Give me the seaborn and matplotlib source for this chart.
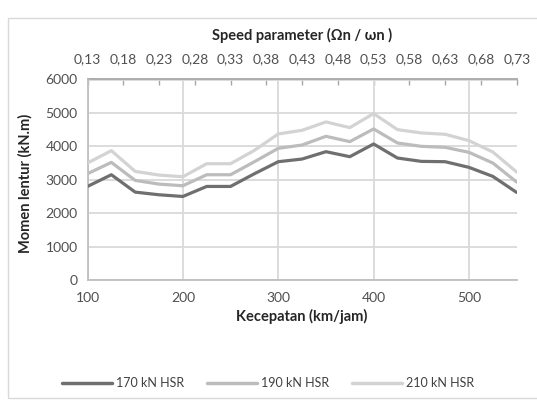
import numpy as np
import pandas as pd
import matplotlib
matplotlib.use("Agg")
import matplotlib.pyplot as plt
import matplotlib.patches as patches
import seaborn as sns

# speed (km/jam) and bending moment (kN.m) per axle load
speed = [100, 125, 150, 175, 200, 225, 250, 275, 300, 325,
         350, 375, 400, 425, 450, 475, 500, 525, 550]
m170 = [2800, 3150, 2630, 2550, 2500, 2800, 2800, 3180, 3540, 3620,
        3840, 3690, 4070, 3650, 3550, 3540, 3370, 3100, 2620]
m190 = [3180, 3520, 2980, 2870, 2820, 3150, 3150, 3540, 3940, 4040,
        4300, 4140, 4520, 4100, 4000, 3970, 3820, 3500, 2930]
m210 = [3500, 3870, 3250, 3140, 3090, 3480, 3480, 3880, 4370, 4480,
        4730, 4560, 4980, 4500, 4400, 4360, 4170, 3830, 3230]
series_names = ["170 kN HSR", "190 kN HSR", "210 kN HSR"]
colors = ["#6f6f6f", "#bcbcbc", "#d3d3d3"]

param_ticks = [0.13, 0.18, 0.23, 0.28, 0.33, 0.38, 0.43,
               0.48, 0.53, 0.58, 0.63, 0.68, 0.73]

df = pd.DataFrame({"speed": speed, series_names[0]: m170,
                   series_names[1]: m190, series_names[2]: m210})
long = df.melt(id_vars="speed", var_name="beban", value_name="momen")

sns.set_theme(style="white")
plt.rcParams["font.family"] = ["Lato", "DejaVu Sans"]

fig = plt.figure(figsize=(5.37, 4.08), dpi=100)
ax = fig.add_axes([87.5 / 537, 1 - 280 / 408, (516.7 - 87.5) / 537, (280 - 79.5) / 408])

sns.lineplot(data=long, x="speed", y="momen", hue="beban", hue_order=series_names,
             palette=colors, linewidth=2.3, ax=ax, legend=False, zorder=3)

ax.set_xlim(100, 550)
ax.set_ylim(0, 6000)
ax.set_xticks([100, 200, 300, 400, 500])
ax.set_yticks(np.arange(0, 7000, 1000))
ax.grid(True, color="#d9d9d9", linewidth=1.3, zorder=0)
ax.set_xlabel("")
ax.set_ylabel("")
ax.tick_params(axis="both", length=0, labelsize=10, colors="#505050")
ax.tick_params(axis="x", pad=9)
ax.tick_params(axis="y", pad=7)
for s in ["top", "right"]:
    ax.spines[s].set_visible(False)
ax.spines["left"].set_color("#bfbfbf")
ax.spines["bottom"].set_color("#bfbfbf")
ax.spines["left"].set_linewidth(1.3)
ax.spines["bottom"].set_linewidth(1.3)


def to_param(v):
    return 0.13 + (np.asarray(v) - 100) * 0.6 / 450


def to_speed(p):
    return 100 + (np.asarray(p) - 0.13) * 450 / 0.6


top = ax.secondary_xaxis("top", functions=(to_param, to_speed))
top.set_xticks(param_ticks)
top.set_xticklabels([f"{p:.2f}".replace(".", ",") for p in param_ticks])
top.tick_params(direction="in", length=4, width=1, color="#a6a6a6",
                labelsize=10, labelcolor="#505050", pad=10)
top.spines["top"].set_color("#a6a6a6")
top.spines["top"].set_linewidth(1.3)

fig.text(302 / 537, 1 - 35 / 408, "Speed parameter (\u03a9n / \u03c9n )", ha="center",
         va="center", fontsize=10.5, fontweight="bold", color="#262626")
fig.text(302 / 537, 1 - 316 / 408, "Kecepatan (km/jam)", ha="center", va="center",
         fontsize=10.5, fontweight="bold", color="#262626")
fig.text(25 / 537, 1 - 183 / 408, "Momen lentur (kN.m)", ha="center", va="center",
         rotation=90, fontsize=10.5, fontweight="bold", color="#262626")

handles = [plt.Line2D([], [], color=c, linewidth=2.5) for c in colors]
fig.legend(handles, series_names, loc="center", bbox_to_anchor=(268 / 537, 1 - 383 / 408),
           ncol=3, frameon=False, fontsize=9, handlelength=4.0, handletextpad=0.33,
           columnspacing=1.85, labelcolor="#404040")

# chart frame
fig.patches.append(patches.Rectangle((8 / 537, 1 - 398 / 408), 600 / 537, 380 / 408,
                                     transform=fig.transFigure, fill=False,
                                     edgecolor="#d9d9d9", linewidth=1))

fig.savefig("out.png", dpi=100)
